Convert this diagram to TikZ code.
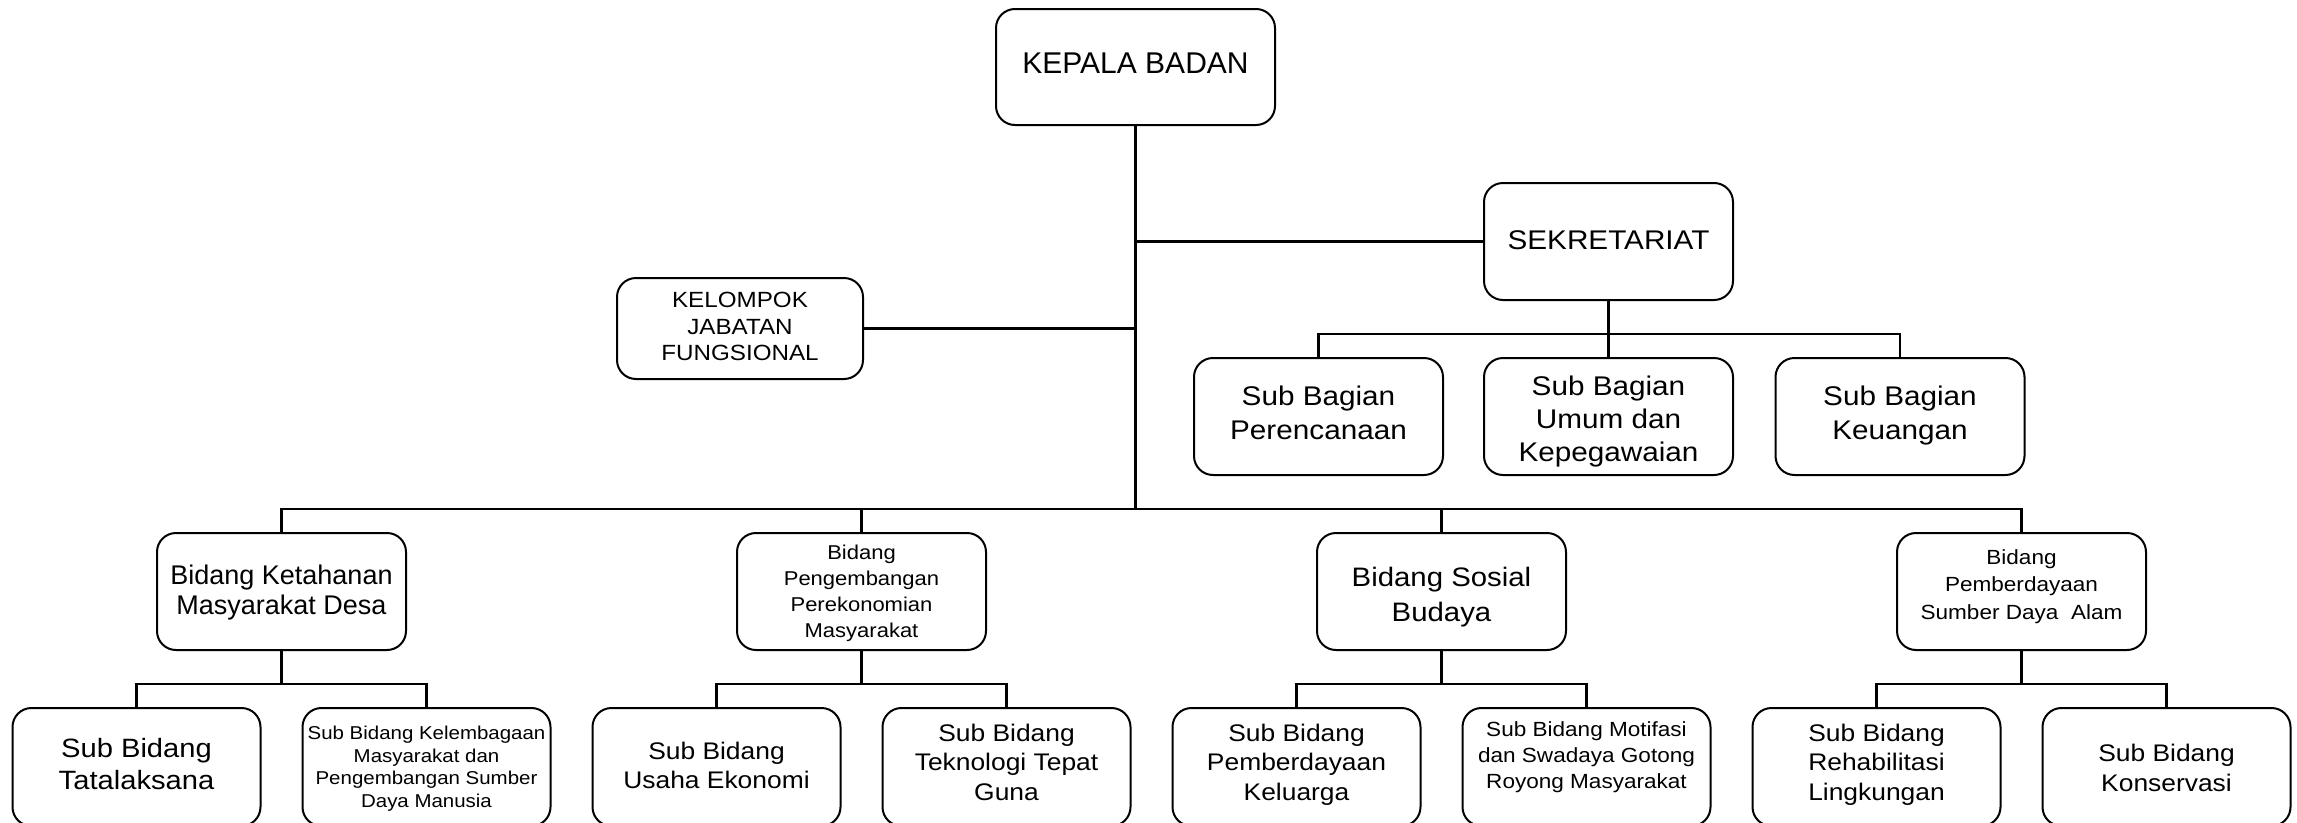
\documentclass[tikz,border=0pt]{standalone}
\usepackage{fontspec}
\setmainfont{Liberation Sans}
\newfontfamily\wide{Liberation Sans}[FakeStretch=1.1]
\newfontfamily\narrow{Liberation Sans}
% #1 family, #2 size, #3 line distance, #4 raise of first baseline above box centre, #5 lines
\newcommand\tx[5]{\raisebox{#4pt}[0pt][0pt]{#1\fontsize{#2}{#3}\selectfont\begin{tabular}[t]{@{}c@{}}#5\end{tabular}}}
\begin{document}
\begin{tikzpicture}[x=1pt,y=-1pt,
  box/.style={draw=black, line width=2pt, rounded corners=19pt,
    inner sep=0pt, minimum width=249pt, minimum height=117pt, fill=white,
    text height=0pt, text depth=0pt},
  subbox/.style={box, minimum width=248pt, minimum height=118pt},
  conn/.style={draw=black, line width=2.5pt, line cap=rect}
]
\useasboundingbox (0,0) rectangle (2297,822);
\clip (0,0) rectangle (2297,822);

% top
\node[box, minimum width=279pt, minimum height=116pt] (kepala) at (1135.5,67) {\tx{\narrow}{30}{34}{-6.3}{KEPALA BADAN}};
\node[box] (sek) at (1608.5,241.5) {\tx{\wide}{27}{33}{-7.8}{SEKRETARIAT}};
\node[box, minimum width=246pt, minimum height=101pt] (kel) at (740,328.5) {\tx{\wide}{22}{26.7}{21.2}{KELOMPOK\\JABATAN\\FUNGSIONAL}};

% sub bagian
\node[box] (sb1) at (1318.5,416.5) {\tx{\wide}{27}{34}{11.5}{Sub Bagian\\Perencanaan}};
\node[box] (sb2) at (1608.5,416.5) {\tx{\wide}{27}{33}{21.5}{Sub Bagian\\Umum dan\\Kepegawaian}};
\node[box] (sb3) at (1900,416.5) {\tx{\wide}{27}{34}{11.5}{Sub Bagian\\Keuangan}};

% bidang
\node[box] (b1) at (281.5,591.5) {\tx{\narrow}{27}{30}{7.2}{Bidang Ketahanan\\Masyarakat Desa}};
\node[box] (b2) at (861.5,591.5) {\tx{\wide}{20}{26}{32.2}{Bidang\\Pengembangan\\Perekonomian\\Masyarakat}};
\node[box] (b3) at (1441.5,591.5) {\tx{\wide}{26.7}{34.3}{4.8}{Bidang Sosial\\Budaya}};
\node[box] (b4) at (2021.5,591.5) {\tx{\wide}{20.5}{27.6}{27.5}{Bidang\\Pemberdayaan\\Sumber Daya~ Alam}};

% sub bidang
\node[subbox] (s1) at (136.5,767) {\tx{\wide}{26.5}{31.6}{9.3}{Sub Bidang\\Tatalaksana}};
\node[subbox] (s2) at (426.5,767) {\tx{\wide}{18.6}{22.8}{27.7}{Sub Bidang Kelembagaan\\Masyarakat dan\\Pengembangan Sumber\\Daya Manusia}};
\node[subbox] (s3) at (716.5,767) {\tx{\wide}{24}{29}{7.7}{Sub Bidang\\Usaha Ekonomi}};
\node[subbox] (s4) at (1006.5,767) {\tx{\wide}{24}{29.5}{26}{Sub Bidang\\Teknologi Tepat\\Guna}};
\node[subbox] (s5) at (1296.5,767) {\tx{\wide}{24}{29.5}{26}{Sub Bidang\\Pemberdayaan\\Keluarga}};
\node[subbox] (s6) at (1586.5,767) {\tx{\wide}{20.5}{26.2}{31}{Sub Bidang Motifasi\\dan Swadaya Gotong\\Royong Masyarakat}};
\node[subbox] (s7) at (1876.5,767) {\tx{\wide}{24}{29.5}{26}{Sub Bidang\\Rehabilitasi\\Lingkungan}};
\node[subbox] (s8) at (2166.5,767) {\tx{\wide}{24}{30}{5.3}{Sub Bidang\\Konservasi}};

% bus levels
\coordinate (trunkbot) at (1136,509);
\coordinate (secbus) at (0,334);
\coordinate (subbus) at (0,684);

% connectors
\draw[conn] (kepala.south) -- (kepala.south |- trunkbot);
\draw[conn] (sek.west) -- (sek.west -| kepala.south);
\draw[conn] (kel.east) -- (kel.east -| kepala.south);

\draw[conn] (sek.south) -- (sb2.north);
\draw[conn] (sb1.north) -- (sb1.north |- secbus) -- (sb3.north |- secbus) -- (sb3.north);

\draw[conn] (b1.north) -- (b1.north |- trunkbot) -- (b4.north |- trunkbot) -- (b4.north);
\draw[conn] (b2.north) -- (b2.north |- trunkbot);
\draw[conn] (b3.north) -- (b3.north |- trunkbot);

\draw[conn] (b1.south) -- (b1.south |- subbus);
\draw[conn] (s1.north) -- (s1.north |- subbus) -- (s2.north |- subbus) -- (s2.north);
\draw[conn] (b2.south) -- (b2.south |- subbus);
\draw[conn] (s3.north) -- (s3.north |- subbus) -- (s4.north |- subbus) -- (s4.north);
\draw[conn] (b3.south) -- (b3.south |- subbus);
\draw[conn] (s5.north) -- (s5.north |- subbus) -- (s6.north |- subbus) -- (s6.north);
\draw[conn] (b4.south) -- (b4.south |- subbus);
\draw[conn] (s7.north) -- (s7.north |- subbus) -- (s8.north |- subbus) -- (s8.north);
\end{tikzpicture}
\end{document}
